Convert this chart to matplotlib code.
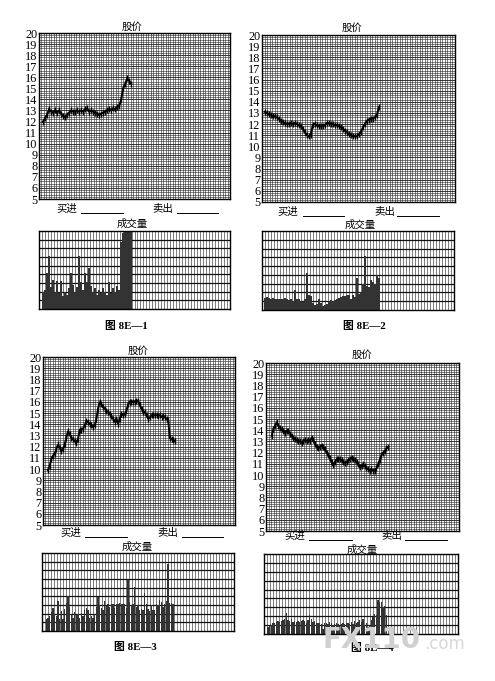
import numpy as np
import matplotlib
matplotlib.use('Agg')
import matplotlib.pyplot as plt
from matplotlib.lines import Line2D

# ---------------- data ----------------
price_ticks = list(range(5, 21))
title_price = "股价"
title_vol = "成交量"
buy_label = "买进"
sell_label = "卖出"
captions = ["图 8E—1", "图 8E—2", "图 8E—3", "图 8E—4"]

price1 = [12.0, 12.3, 12.6, 13.1, 12.9, 12.8, 13.0, 12.8, 13.0, 12.7,
          12.5, 12.4, 12.6, 12.8, 13.0, 12.9, 12.9, 13.0, 12.9, 13.0,
          12.9, 13.1, 13.2, 12.9, 13.0, 12.9, 12.8, 12.7, 12.6, 12.7,
          12.8, 12.9, 13.0, 13.1, 13.0, 13.2, 13.1, 13.3, 13.4, 14.0,
          15.0, 15.4, 15.9, 15.7, 15.4]
vol1 = [2.0, 2.2, 4.1, 6.1, 2.5, 3.3, 2.0, 3.2, 1.8, 3.2,
        1.5, 2.0, 1.6, 2.4, 4.1, 2.8, 2.0, 2.5, 6.1, 3.1,
        2.2, 4.1, 3.1, 4.7, 2.6, 2.0, 2.4, 1.6, 2.2, 1.8,
        2.4, 2.0, 1.6, 3.1, 1.8, 2.4, 2.0, 2.6, 2.2, 7.7,
        8.8, 9.0, 9.0, 9.0, 9.0]

price2 = [13.1, 13.0, 12.9, 12.8, 12.7, 12.7, 12.6, 12.5, 12.3, 12.2,
          12.1, 12.0, 12.0, 12.1, 12.0, 12.1, 12.0, 11.9, 11.8, 11.6,
          11.3, 11.0, 10.9, 11.0, 11.9, 12.0, 11.9, 11.8, 11.8, 11.8,
          11.9, 12.1, 12.1, 12.0, 12.0, 11.9, 11.9, 11.8, 11.7, 11.6,
          11.4, 11.3, 11.1, 11.0, 10.9, 10.9, 10.9, 11.1, 11.3, 11.7,
          12.0, 12.3, 12.4, 12.5, 12.5, 12.6, 12.8, 13.5]
vol2 = [1.4, 1.5, 1.4, 1.3, 1.4, 1.2, 1.3, 1.2, 1.3, 1.2,
        1.4, 1.3, 1.1, 1.3, 1.0, 2.3, 1.2, 1.3, 1.0, 0.9,
        1.2, 4.2, 1.7, 1.6, 0.8, 0.6, 0.7, 1.3, 0.8, 0.5,
        0.6, 0.7, 1.0, 1.1, 1.0, 1.1, 1.3, 1.4, 1.5, 1.6,
        1.6, 1.7, 1.7, 1.3, 1.7, 1.5, 3.6, 1.8, 2.1, 3.0,
        6.2, 2.7, 2.6, 3.4, 3.2, 3.0, 4.0, 3.6]

price3 = [9.9, 10.3, 10.9, 11.2, 11.35, 11.8, 12.2, 11.9, 11.6, 11.8,
          12.2, 12.8, 13.4, 13.1, 12.8, 12.65, 12.5, 12.35, 12.7, 13.5,
          13.5, 13.6, 13.9, 14.3, 14.2, 14.0, 13.9, 13.75, 13.9, 14.5,
          15.4, 16.0, 15.8, 15.5, 15.4, 15.2, 15.1, 14.95, 14.7, 14.5,
          14.2, 14.5, 14.05, 14.5, 14.95, 14.8, 14.9, 15.2, 15.8, 16.0,
          16.0, 16.0, 16.0, 16.1, 16.1, 15.7, 15.4, 15.1, 15.1, 14.8,
          14.5, 14.6, 14.8, 14.8, 14.8, 14.8, 14.75, 14.8, 14.65, 14.75,
          14.6, 14.5, 14.35, 12.75, 12.7, 12.6, 12.5]
vol3 = [1.42, 1.54, 1.69, 2.19, 2.69, 2.0, 1.69, 3.46, 1.42, 2.31,
        1.42, 2.58, 3.23, 4.0, 2.77, 2.0, 1.54, 2.19, 1.81, 2.0,
        1.54, 2.08, 1.69, 2.38, 2.69, 2.38, 1.54, 1.69, 1.54, 1.92,
        2.77, 3.92, 2.96, 2.69, 2.38, 3.46, 2.85, 3.15, 2.77, 3.08,
        3.08, 2.69, 3.15, 3.08, 3.23, 3.08, 3.15, 3.08, 2.69, 5.85,
        3.35, 2.96, 3.08, 5.08, 2.77, 2.96, 2.38, 2.58, 2.46, 4.38,
        3.08, 2.58, 2.31, 2.96, 2.38, 2.38, 3.08, 2.96, 3.54, 3.35,
        2.77, 3.08, 3.46, 7.77, 3.23, 3.23, 3.1]

price4 = [13.5, 14.1, 14.4, 14.7, 14.4, 14.2, 14.1, 13.95, 13.75, 13.95,
          13.9, 13.7, 13.5, 13.3, 13.2, 13.1, 13.05, 13.0, 12.9, 13.05,
          13.1, 13.0, 13.1, 13.05, 13.3, 13.1, 12.8, 12.5, 12.4, 12.5,
          12.6, 12.5, 12.3, 12.0, 11.8, 11.5, 11.15, 10.85, 11.15, 11.4,
          11.45, 11.4, 11.3, 11.15, 11.1, 11.15, 11.3, 11.4, 11.55, 11.45,
          11.35, 11.15, 10.95, 10.7, 10.8, 10.95, 10.8, 10.65, 10.5, 10.4,
          10.5, 10.4, 10.4, 10.6, 10.95, 11.35, 11.8, 12.0, 12.1, 12.4, 12.5]
vol4 = [0.83, 0.90, 1.02, 1.2, 1.28, 1.39, 1.51, 1.39, 1.51, 1.58,
        1.66, 2.41, 1.58, 1.51, 1.66, 1.39, 1.51, 1.39, 1.51, 1.39,
        1.51, 1.58, 1.51, 1.28, 1.58, 2.15, 1.66, 1.39, 1.51, 1.28,
        1.2, 1.28, 1.13, 0.53, 1.2, 1.28, 1.13, 1.39, 1.2, 1.02,
        1.13, 1.2, 1.13, 1.02, 1.13, 1.28, 1.13, 1.28, 1.2, 1.13,
        1.39, 1.13, 1.51, 1.2, 1.39, 1.58, 1.39, 1.66, 1.02, 1.2,
        0.83, 1.02, 1.58, 1.88, 2.26, 2.15, 3.77, 3.65, 3.65, 3.09,
        3.16, 2.15]

# ---------------- layout ----------------
W, H = 495, 681
fig = plt.figure(figsize=(W / 100, H / 100), dpi=100)
fig.patch.set_facecolor('white')

SERIF = 'Liberation Serif'
CJK = 'Noto Sans CJK SC'
GRID_C = '#1a1a1a'


def px_axes(L, R, T, B):
    return fig.add_axes([L / W, 1 - B / H, (R - L) / W, (B - T) / H])


def ftext(x, y, s, size=7.5, fam=None, weight='normal', color='black', ha='center', z=3):
    fig.text(x / W, 1 - y / H, s, ha=ha, va='center', fontsize=size,
             family=fam or [CJK, 'DejaVu Sans'], weight=weight, color=color, zorder=z)


def underline(x1, x2, y):
    fig.add_artist(Line2D([x1 / W, x2 / W], [1 - y / H, 1 - y / H],
                          color='black', lw=0.7, transform=fig.transFigure))


def price_panel(box, xlim, prices):
    ax = px_axes(*box)
    ax.set_xlim(*xlim)
    ax.set_ylim(5, 20)
    ax.set_yticks(price_ticks)
    ax.set_yticklabels([str(t) for t in price_ticks], family=SERIF, fontsize=8.8)
    ax.set_yticks(np.arange(5, 20.01, 0.2), minor=True)
    ax.set_xticks([])
    ax.set_xticks(np.linspace(xlim[0], xlim[1], 78), minor=True)
    ax.tick_params(which='both', length=0, pad=1.2)
    ax.grid(which='minor', color=GRID_C, lw=0.45, alpha=0.85)
    ax.grid(which='major', axis='y', color=GRID_C, lw=0.6)
    ax.set_axisbelow(True)
    days = np.arange(len(prices))
    ax.plot(days, prices, color='black', lw=1.4, marker='|', ms=4, mew=1.0,
            solid_joinstyle='miter', zorder=3)
    for s in ax.spines.values():
        s.set_linewidth(1.0)
    return ax


def vol_panel(box, xlim, vols):
    ax = px_axes(*box)
    ax.set_xlim(*xlim)
    ax.set_ylim(0, 9)
    ax.set_yticks([])
    ax.set_yticks(np.arange(1, 9), minor=True)
    ax.set_xticks([])
    ax.set_xticks(np.linspace(xlim[0], xlim[1], 65), minor=True)
    ax.tick_params(which='both', length=0)
    ax.grid(which='minor', axis='x', color=GRID_C, lw=0.5, alpha=0.8)
    ax.grid(which='minor', axis='y', color='#111111', lw=0.9)
    ax.set_axisbelow(True)
    days = np.arange(len(vols))
    ax.bar(days, vols, width=0.85, color='#333333', edgecolor='none', zorder=2)
    for s in ax.spines.values():
        s.set_linewidth(1.0)
    return ax


# panel 1
price_panel((39, 230, 33, 199), (-2, 93.3), price1)
vol_panel((39, 230, 231, 309), (-2, 93.3), vol1)
# panel 2
price_panel((262, 455, 35, 202), (-1.33, 95), price2)
vol_panel((262, 454, 231, 310), (-1.33, 94.5), vol2)
# panel 3
price_panel((43, 235, 357, 525), (-3, 112), price3)
vol_panel((42, 234, 553, 631), (-2.6, 112.6), vol3)
# panel 4
price_panel((266, 459, 363, 531), (-3.4, 112.6), price4)
vol_panel((264, 458, 554, 634), (-2.4, 114), vol4)

# texts: (title_x, title_y, buy_x, sell_x, line_y, u1, u2, u3, u4, vol_x, vol_y, cap_x, cap_y)
texts = [
    (132, 27, 67, 163, 209, 81, 123, 177, 218, 132, 224, 126, 326),
    (352, 28, 288, 385, 212, 303, 344, 397, 439, 360, 225, 364, 326),
    (138, 351, 71, 168, 533, 85, 127, 182, 223, 137, 547, 135, 647),
    (362, 355, 295, 392, 536, 309, 352, 405, 447, 362, 550, 372, 648),
]
for i, (tx, ty, bx, sx, ly, u1, u2, u3, u4, vx, vy, cx, cy) in enumerate(texts):
    ftext(tx, ty, title_price, size=7.5)
    ftext(bx, ly, buy_label, size=7.5)
    ftext(sx, ly, sell_label, size=7.5)
    underline(u1, u2, ly + 4)
    underline(u3, u4, ly + 4)
    ftext(vx, vy, title_vol, size=7.5)
    ftext(cx, cy, captions[i], size=7.8, fam=[SERIF, CJK], weight='bold')

# watermark on the last panel (semi-transparent, as in the scan)
ftext(372, 640, "FX110", size=20, fam=['DejaVu Sans'], weight='bold', color='#d0d0d0', z=4)
ftext(445, 644, ".com", size=12, fam=['DejaVu Sans'], weight='normal', color='#d8d8d8', z=4)

fig.savefig('out.png', dpi=100, facecolor='white')
